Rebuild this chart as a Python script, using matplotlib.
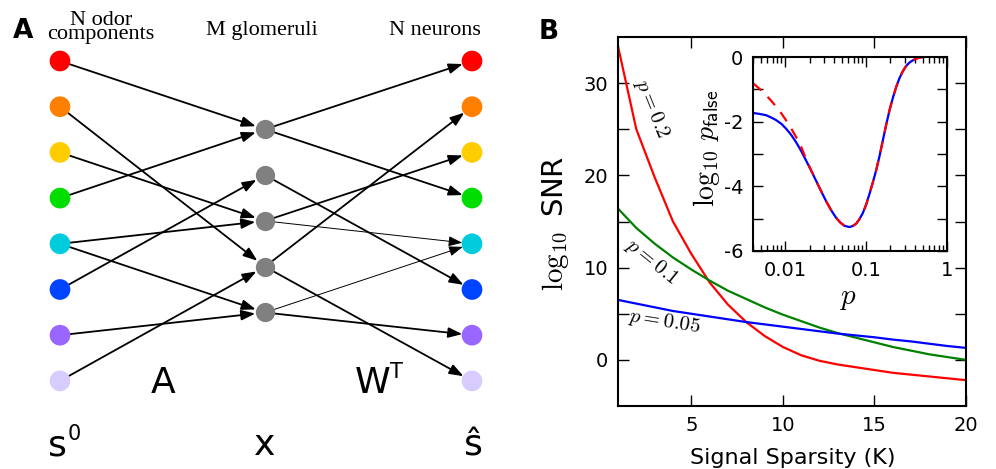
import matplotlib
matplotlib.use('Agg')
import matplotlib.pyplot as plt
import numpy as np
from matplotlib.ticker import NullFormatter

plt.rcParams['mathtext.fontset'] = 'cm'
plt.rcParams['axes.unicode_minus'] = False

# ---- panel A: network ----
node_colors = ['#ff0000', '#ff8000', '#ffcc00', '#00dd00',
               '#00ccdd', '#0044ff', '#9966ff', '#d8ccff']
n_glom = 5
# (odor component, glomerulus)
edges_A = [(0, 0), (1, 3), (2, 2), (3, 0), (4, 2), (4, 4), (5, 1), (6, 4), (7, 3)]
# (glomerulus, neuron, thin)
edges_W = [(0, 0, False), (0, 3, False), (1, 5, False), (2, 2, False), (2, 4, True),
           (3, 1, False), (3, 7, False), (4, 4, True), (4, 6, False)]

# ---- panel B: SNR vs sparsity ----
K = np.arange(1, 21)
snr_p02 = [34.0, 25.0, 19.8, 15.0, 11.5, 8.4, 6.0, 4.1, 2.6, 1.4,
           0.5, -0.1, -0.5, -0.8, -1.1, -1.4, -1.6, -1.8, -2.0, -2.2]
snr_p01 = [16.4, 14.3, 12.6, 11.1, 9.8, 8.6, 7.5, 6.6, 5.7, 4.9,
           4.2, 3.5, 2.9, 2.4, 1.9, 1.4, 1.0, 0.6, 0.3, 0.0]
snr_p005 = [6.5, 6.1, 5.7, 5.3, 5.0, 4.7, 4.4, 4.1, 3.85, 3.6,
            3.35, 3.1, 2.85, 2.65, 2.45, 2.2, 2.0, 1.75, 1.5, 1.3]

# ---- inset: log10 p_false vs p ----
p_vals = [0.004, 0.0048, 0.0058, 0.0067, 0.0077, 0.009, 0.0102, 0.0118, 0.0136, 0.0157,
          0.0181, 0.0209, 0.024, 0.0277, 0.0319, 0.0368, 0.0425, 0.048, 0.0539, 0.062,
          0.068, 0.075, 0.082, 0.0906, 0.1, 0.11, 0.121, 0.133, 0.147, 0.161,
          0.177, 0.195, 0.215, 0.236, 0.258, 0.283, 0.312, 0.344, 0.38, 0.416,
          0.46, 0.5]
pf_exact = [-1.73, -1.76, -1.80, -1.87, -1.95, -2.07, -2.21, -2.40, -2.63, -2.90,
            -3.2, -3.51, -3.82, -4.14, -4.45, -4.73, -4.97, -5.12, -5.22, -5.26,
            -5.23, -5.16, -5.03, -4.84, -4.57, -4.24, -3.88, -3.51, -3.05, -2.58,
            -2.1, -1.64, -1.25, -0.92, -0.66, -0.45, -0.28, -0.17, -0.1, -0.05,
            -0.02, 0.0]
pf_approx = [-0.81, -0.98, -1.18, -1.35, -1.53, -1.75, -1.95, -2.2, -2.47, -2.77,
             -3.15, -3.5, -3.82, -4.14, -4.45, -4.73, -4.97, -5.12, -5.22, -5.26,
             -5.23, -5.16, -5.03, -4.84, -4.57, -4.24, -3.88, -3.51, -3.05, -2.58,
             -2.1, -1.64, -1.25, -0.92, -0.66, -0.45, -0.28, -0.17, -0.1, -0.05,
             -0.02, 0.0]

fig = plt.figure(figsize=(9.96, 4.69), dpi=100)

# pixel-coordinate canvas for panel A
axa = fig.add_axes([0, 0, 1, 1])
axa.set_xlim(0, 996)
axa.set_ylim(469, 0)
axa.axis('off')

x_in, x_mid, x_out = 60, 265, 472
row_y = 61 + 45.7 * np.arange(len(node_colors))
glom_y = 129.3 + 45.8 * np.arange(n_glom)

for i, g in edges_A:
    axa.annotate('', xy=(x_mid, glom_y[g]), xytext=(x_in, row_y[i]),
                 arrowprops=dict(arrowstyle='-|>,head_length=0.6,head_width=0.22',
                                 lw=1.3, color='k', shrinkA=7, shrinkB=7,
                                 mutation_scale=14))
for g, j, thin in edges_W:
    axa.annotate('', xy=(x_out, row_y[j]), xytext=(x_mid, glom_y[g]),
                 arrowprops=dict(arrowstyle='-|>,head_length=0.6,head_width=0.22',
                                 lw=0.7 if thin else 1.3, color='k',
                                 shrinkA=7, shrinkB=7, mutation_scale=14))

axa.scatter([x_in] * len(row_y), row_y, s=222, c=node_colors, zorder=5, linewidths=0)
axa.scatter([x_out] * len(row_y), row_y, s=222, c=node_colors, zorder=5, linewidths=0)
axa.scatter([x_mid] * n_glom, glom_y, s=193, c='#808080', zorder=5, linewidths=0)

serif = 'Liberation Serif'
axa.text(101, 39, 'N odor\ncomponents', ha='center', va='baseline', fontsize=16,
         family=serif, linespacing=0.66, multialignment='center')
axa.text(262, 35, 'M glomeruli', ha='center', va='baseline', fontsize=16, family=serif)
axa.text(435, 35, 'N neurons', ha='center', va='baseline', fontsize=16, family=serif)

axa.text(163, 393, 'A', ha='center', va='baseline', fontsize=26)
axa.text(373, 393, 'W', ha='center', va='baseline', fontsize=26)
axa.text(396, 378, 'T', ha='center', va='baseline', fontsize=15)
axa.text(57, 455, 's', ha='center', va='baseline', fontsize=26)
axa.text(74, 440, '0', ha='center', va='baseline', fontsize=15)
axa.text(265, 455, 'x', ha='center', va='baseline', fontsize=26)
axa.text(473, 455, '\u015d', ha='center', va='baseline', fontsize=26)

axa.text(23, 38, 'A', ha='center', va='baseline', fontsize=19, fontweight='bold')
axa.text(549, 39, 'B', ha='center', va='baseline', fontsize=19, fontweight='bold')

# ---- panel B ----
axb = fig.add_axes([618 / 996, 63 / 469, 348 / 996, 369 / 469])
axb.plot(K, snr_p02, color='r', lw=1.6)
axb.plot(K, snr_p01, color='g', lw=1.6)
axb.plot(K, snr_p005, color='b', lw=1.6)
axb.set_xlim(1, 20)
axb.set_ylim(-5, 35)
axb.set_xticks([5, 10, 15, 20])
axb.set_yticks([0, 5, 10, 15, 20, 25, 30])
axb.set_yticklabels(['0', '', '10', '', '20', '', '30'])
axb.tick_params(direction='in', top=True, right=True, length=8, width=1,
                labelsize=14, pad=7)
for s in axb.spines.values():
    s.set_linewidth(1.5)
axb.set_xlabel('Signal Sparsity (K)', fontsize=16)
axb.xaxis.set_label_coords(0.503, -0.114)
axb.set_ylabel(r'$\log_{10}$ SNR', fontsize=21)
axb.yaxis.set_label_coords(-0.135, 0.496)

axb.text(2.86, 27.2, r'$p=0.2$', rotation=-68, rotation_mode='anchor',
         ha='center', va='center', fontsize=15)
axb.text(2.86, 10.65, r'$p=0.1$', rotation=-39, rotation_mode='anchor',
         ha='center', va='center', fontsize=15)
axb.text(3.57, 4.1, r'$p=0.05$', rotation=-9, rotation_mode='anchor',
         ha='center', va='center', fontsize=15)

# ---- inset ----
axi = fig.add_axes([753 / 996, 218 / 469, 194 / 996, 194 / 469])
axi.plot(p_vals, pf_exact, color='b', lw=1.6)
axi.plot(p_vals, pf_approx, color='r', lw=1.6, ls=(0, (5, 4)))
axi.set_xscale('log')
axi.set_xlim(0.004, 1)
axi.set_ylim(-6, 0)
axi.set_xticks([0.01, 0.1, 1])
axi.set_xticklabels(['0.01', '0.1', '1'])
axi.xaxis.set_minor_formatter(NullFormatter())
axi.set_yticks([-6, -5, -4, -3, -2, -1, 0])
axi.set_yticklabels(['-6', '', '-4', '', '-2', '', '0'])
axi.tick_params(which='both', direction='in', top=True, right=True, width=1,
                labelsize=14, pad=7)
axi.tick_params(which='major', length=7)
axi.tick_params(which='minor', length=4)
for s in axi.spines.values():
    s.set_linewidth(1.5)
axi.set_xlabel(r'$p$', fontsize=21)
axi.xaxis.set_label_coords(0.49, -0.17)
axi.set_ylabel(r'$\log_{10}\,p_{\mathsf{false}}$', fontsize=20)
axi.yaxis.set_label_coords(-0.16, 0.53)

fig.savefig('out.png', dpi=100)
